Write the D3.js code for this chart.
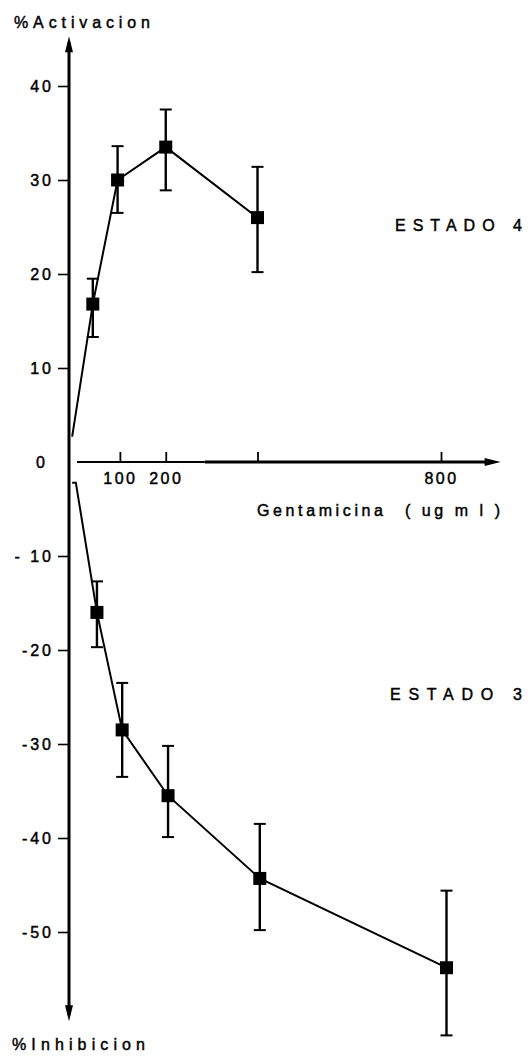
<!DOCTYPE html>
<html><head><meta charset="utf-8">
<script src="https://cdn.jsdelivr.net/npm/d3@7"></script>
<style>body{margin:0;background:#fff}svg{display:block}</style>
</head><body>
<svg id="c" width="530" height="1056"></svg>
<script>
// ---- data ----
const yTicks = [40, 30, 20, 10, 0, -10, -20, -30, -40, -50];
const yTickLabels = ["40", "30", "20", "10", "0", "- 10", "-20", "-30", "-40", "-50"];
const xTicks = [100, 200, 400, 800];
const xTickLabels = ["100", "200", "", "800"];

// ESTADO 4 (activation)
const est4Conc = [-4, 41, 95, 200, 400];
const est4Val  = [2.7, 16.8, 30.0, 33.5, 26.0];
const est4Lo   = [null, 13.3, 26.5, 28.9, 20.2];
const est4Hi   = [null, 19.5, 33.6, 37.5, 31.4];

// ESTADO 3 (inhibition)
const est3Conc = [-4, 4, 50, 105, 205, 405, 812];
const est3Val  = [-2.2, -2.2, -16.0, -28.5, -35.5, -44.3, -53.8];
const est3Lo   = [null, null, -19.7, -33.5, -39.9, -49.8, -61.0];
const est3Hi   = [null, null, -12.7, -23.5, -30.2, -38.5, -45.6];

const yAxisTop = 45.3, yAxisBottom = -59.5, xAxisEnd = 930;

// ---- scales ----
const svg = d3.select("#c");
const font = "'Liberation Sans', Arial, sans-serif";
const y = d3.scaleLinear().domain([-50, 40]).range([932, 86]);
const x = d3.scaleLinear().domain([0, 800]).range([74, 441]);
const axX = 69;

function heavy(sel) {
  return sel.attr("stroke", "#000").attr("stroke-width", 0.45).attr("fill", "#000");
}

// ---- y axis ----
const yAxis = d3.axisLeft(y).tickValues(yTicks).tickSize(11).tickPadding(4)
  .tickFormat((d, i) => yTickLabels[i]);
const gy = svg.append("g").attr("transform", `translate(${axX},0)`).call(yAxis);
gy.select(".domain").remove();
gy.selectAll(".tick line").attr("stroke", "#000").attr("stroke-width", 1.6);
heavy(gy.selectAll(".tick text").attr("font-family", font).attr("font-size", 16)
  .attr("letter-spacing", 3)
  .attr("dx", d => d === 0 ? -6 : 0));
gy.selectAll(".tick").filter(d => d === 0).select("line").remove();

svg.append("line").attr("x1", axX).attr("x2", axX)
  .attr("y1", y(yAxisTop) + 6).attr("y2", y(yAxisBottom) - 6)
  .attr("stroke", "#000").attr("stroke-width", 3);
svg.append("path").attr("d", `M${axX},${y(yAxisTop)} L${axX-4},${y(yAxisTop)+16} L${axX+4},${y(yAxisTop)+16} Z`).attr("fill", "#000");
svg.append("path").attr("d", `M${axX},${y(yAxisBottom)} L${axX-4},${y(yAxisBottom)-16} L${axX+4},${y(yAxisBottom)-16} Z`).attr("fill", "#000");

// ---- x axis ----
const xAxis = d3.axisBottom(x).tickValues(xTicks).tickSizeInner(-10).tickSizeOuter(0)
  .tickPadding(11).tickFormat((d, i) => xTickLabels[i]);
const gx = svg.append("g").attr("transform", `translate(0,${y(0)})`).call(xAxis);
gx.select(".domain").remove();
gx.selectAll(".tick line").attr("stroke", "#000").attr("stroke-width", 1.8);
heavy(gx.selectAll(".tick text").attr("font-family", font).attr("font-size", 16)
  .attr("letter-spacing", 2.5));
svg.append("line").attr("x1", 77).attr("x2", x(200) + 39).attr("y1", y(0)).attr("y2", y(0))
  .attr("stroke", "#000").attr("stroke-width", 2);
svg.append("line").attr("x1", x(200) + 39).attr("x2", x(xAxisEnd) - 10).attr("y1", y(0)).attr("y2", y(0))
  .attr("stroke", "#000").attr("stroke-width", 3);
svg.append("path").attr("d", `M${x(xAxisEnd)},${y(0)} L${x(xAxisEnd)-16},${y(0)-4} L${x(xAxisEnd)-16},${y(0)+4} Z`).attr("fill", "#000");

// ---- series ----
function drawSeries(conc, val, lo, hi) {
  const pts = conc.map((c, i) => ({c, v: val[i], lo: lo[i], hi: hi[i]}));
  svg.append("path").datum(pts)
    .attr("d", d3.line().x(d => x(d.c)).y(d => y(d.v)))
    .attr("fill", "none").attr("stroke", "#000").attr("stroke-width", 2);
  const eb = pts.filter(d => d.lo !== null);
  const g = svg.append("g");
  g.selectAll("line.v").data(eb).join("line")
    .attr("x1", d => x(d.c)).attr("x2", d => x(d.c))
    .attr("y1", d => y(d.lo)).attr("y2", d => y(d.hi))
    .attr("stroke", "#000").attr("stroke-width", 2.4);
  ["lo", "hi"].forEach(k => {
    g.selectAll("line." + k).data(eb).join("line").attr("class", k)
      .attr("x1", d => x(d.c) - 6).attr("x2", d => x(d.c) + 6)
      .attr("y1", d => y(d[k])).attr("y2", d => y(d[k]))
      .attr("stroke", "#000").attr("stroke-width", 2);
  });
  g.selectAll("rect").data(eb).join("rect")
    .attr("x", d => x(d.c) - 6.5).attr("y", d => y(d.v) - 6.5)
    .attr("width", 13).attr("height", 13).attr("fill", "#000");
}
drawSeries(est4Conc, est4Val, est4Lo, est4Hi);
drawSeries(est3Conc, est3Val, est3Lo, est3Hi);

// ---- labels ----
function label(txt, x0, yb, w, size) {
  heavy(svg.append("text").attr("x", x0).attr("y", yb).text(txt)
    .attr("font-family", font).attr("font-size", size || 16)
    .attr("textLength", w).attr("lengthAdjust", "spacing"));
}
label("%Activacion", 14, 28, 136, 16);
label("%Inhibicion", 12, 1050, 133, 16);
label("Gentamicina", 257, 516, 126, 16);
label("( ug m l )", 405, 516, 95, 16);
label("ESTADO 4", 395, 231, 127, 16);
label("ESTADO 3", 390, 700, 132, 16);
</script>
</body></html>
